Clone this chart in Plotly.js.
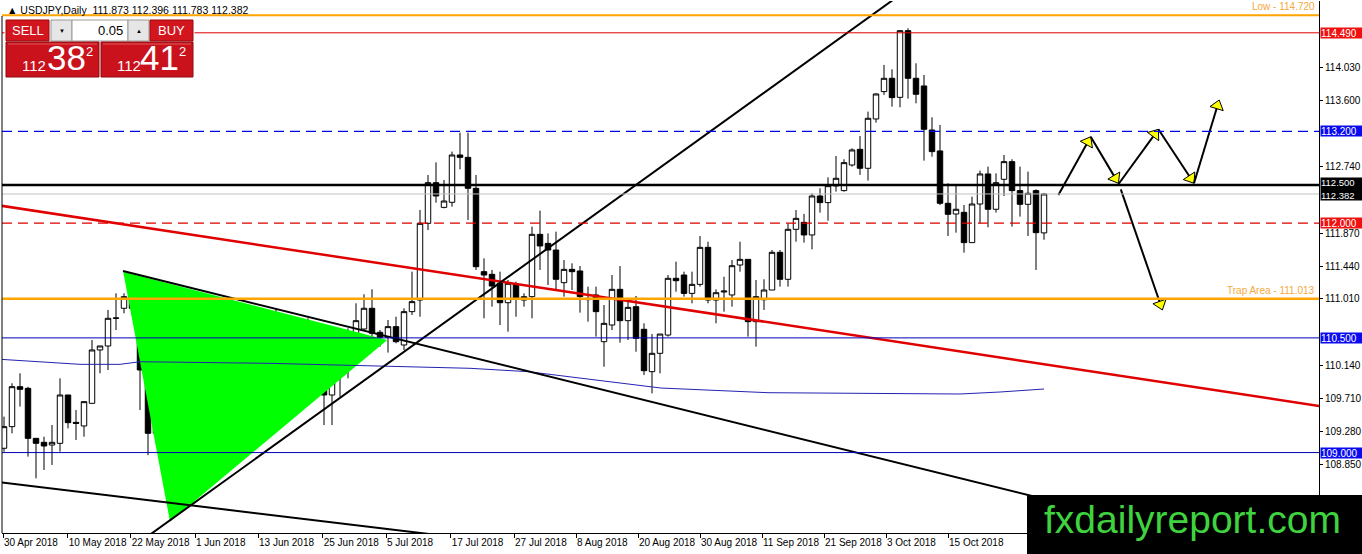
<!DOCTYPE html>
<html><head><meta charset="utf-8">
<script src="https://cdn.plot.ly/plotly-3.0.1.min.js"></script>
<style>html,body{margin:0;padding:0;background:#fff;}#chart{width:1362px;height:554px;}</style>
</head><body><div id="chart"></div>
<script>
// ---- OHLC data (bar index 0 = 30 Apr 2018) ----
const openP = [
109.056,109.339,109.862,109.840,109.186,109.134,109.099,109.121,109.753,109.395,
109.348,109.644,110.342,110.394,110.756,110.887,111.039,110.887,110.080,109.252,
109.762,109.405,108.763,108.903,108.816,109.448,109.797,109.775,110.189,109.697,
109.361,110.015,110.364,110.333,110.625,110.690,110.551,110.045,110.350,109.984,
109.818,109.753,110.049,110.241,110.481,110.616,110.887,110.573,110.507,110.647,
110.407,110.843,110.995,111.998,112.530,112.207,112.273,112.892,112.861,112.456,
111.366,111.331,111.214,110.960,111.205,110.995,111.039,111.854,111.736,111.649,
111.222,111.396,111.375,111.017,111.061,110.450,110.668,111.135,110.725,110.908,
110.612,110.058,110.298,110.537,111.279,111.322,111.082,111.200,111.684,110.995,
111.100,111.061,111.453,111.527,110.712,110.999,111.126,111.619,111.266,111.920,
112.011,111.846,112.356,112.269,112.487,112.426,112.761,112.966,112.718,113.363,
113.721,113.895,113.646,114.518,113.895,113.795,113.219,112.945,112.260,112.120,
112.142,111.746,112.251,112.644,112.182,112.574,112.805,112.426,112.247,112.426,
111.873];
const highP = [
109.470,109.906,110.037,109.860,109.186,109.208,109.361,109.971,109.753,109.557,
109.666,110.473,110.394,110.865,111.083,111.083,111.192,110.887,110.080,109.862,
109.862,109.470,109.056,108.990,109.732,109.862,110.015,110.276,110.211,109.840,
110.124,110.473,110.821,110.821,110.887,110.712,110.551,110.472,110.756,110.210,
110.058,110.167,110.342,110.625,110.952,111.070,111.135,110.603,110.734,110.777,
110.887,111.366,112.173,112.630,112.796,112.565,112.936,113.184,113.184,112.630,
111.540,111.388,111.366,111.257,111.235,111.083,111.955,112.164,111.867,111.889,
111.518,111.475,111.440,111.170,111.170,110.930,111.322,111.440,111.017,111.048,
110.690,110.550,110.550,111.322,111.497,111.366,111.366,111.832,111.758,111.135,
111.300,111.518,111.758,111.527,111.257,111.266,111.649,111.649,111.998,112.172,
112.121,112.391,112.456,112.600,112.879,112.836,112.979,113.141,113.459,113.699,
114.070,114.013,114.527,114.549,114.091,113.939,113.385,113.285,112.522,112.500,
112.238,112.347,112.688,112.740,112.652,112.892,112.836,112.740,112.674,112.443,
112.396];
const lowP = [
109.012,109.252,109.601,108.947,108.663,108.772,108.838,109.012,109.317,109.165,
109.208,109.644,110.037,110.080,110.603,110.821,110.800,109.557,108.966,109.121,
109.252,108.336,108.358,108.380,108.729,109.383,109.470,109.775,109.492,109.208,
109.317,109.993,110.211,110.080,110.385,110.298,109.557,109.862,109.840,109.796,
109.360,109.360,109.731,109.971,110.473,110.603,110.494,110.385,110.307,110.429,
110.341,110.799,110.777,111.910,112.268,112.194,112.216,112.705,112.042,111.388,
110.756,110.908,110.668,110.581,110.777,110.908,110.756,111.388,111.191,111.126,
111.039,111.126,110.830,110.712,110.516,110.123,110.603,110.437,110.472,110.319,
110.014,109.774,110.036,110.516,111.104,111.039,110.952,111.170,110.952,110.690,
110.843,110.908,111.366,110.516,110.385,110.865,111.126,111.170,111.170,111.758,
111.746,111.658,112.138,112.033,112.413,112.413,112.740,112.631,112.557,113.315,
113.677,113.524,113.516,113.629,113.568,112.818,112.870,112.238,111.833,111.876,
111.615,111.746,111.998,111.946,112.138,112.356,111.955,112.086,111.833,111.388,
111.783];
const closeP = [
109.339,109.862,109.827,109.186,109.121,109.086,109.134,109.753,109.391,109.382,
109.666,110.342,110.394,110.756,110.760,111.039,110.887,110.080,109.252,109.383,
109.426,108.750,108.903,108.807,109.527,109.819,109.800,110.167,109.697,109.535,
110.015,110.364,110.333,110.625,110.647,110.551,110.045,110.350,109.984,109.958,
109.753,110.049,110.241,110.481,110.725,110.887,110.560,110.507,110.647,110.450,
110.843,110.974,111.998,112.530,112.356,112.290,112.892,112.861,112.456,111.431,
111.322,111.178,110.960,111.214,111.017,111.039,111.854,111.702,111.649,111.266,
111.396,111.366,111.039,111.000,110.843,110.690,111.135,110.725,110.899,110.494,
110.071,110.298,110.550,111.279,111.248,111.082,111.200,111.684,110.995,111.091,
111.112,111.444,111.527,110.712,111.039,111.126,111.619,111.266,111.920,112.063,
111.846,112.356,112.269,112.491,112.587,112.792,112.958,112.718,113.372,113.690,
113.895,113.642,114.518,113.895,113.686,113.228,112.936,112.260,112.116,112.182,
111.746,112.251,112.644,112.182,112.530,112.805,112.426,112.247,112.391,111.876,
112.382];

// ---- axis labels ----
const dateLabels = ['30 Apr 2018','10 May 2018','22 May 2018','1 Jun 2018','13 Jun 2018','25 Jun 2018',
  '5 Jul 2018','17 Jul 2018','27 Jul 2018','8 Aug 2018','20 Aug 2018','30 Aug 2018','11 Sep 2018',
  '21 Sep 2018','3 Oct 2018','15 Oct 2018'];
const dateLabelBars = [-0.125,7.96,15.84,23.875,31.75,39.84,47.75,55.84,63.75,71.5,79.25,87,94.75,102.5,110.25,118];
const priceTicks = [114.03,113.60,112.74,111.87,111.44,111.01,110.14,109.71,109.28,108.85];
const priceTickText = ['114.030','113.600','112.740','111.870','111.440','111.010','110.140','109.710','109.280','108.850'];

// ---- moving average (read at sample bars) ----
const maBars = [-0.5,9.5,14.5,17,33.25,48.25,58.25,65.5,73.8,82.1,95.5,112,119.5,124.5,130];
const maVals = [110.220,110.154,110.154,110.188,110.167,110.132,110.102,110.058,109.949,109.844,109.783,109.766,109.766,109.792,109.831];

// ---- horizontal levels ----
const levelPrices = [114.720,114.490,113.200,112.500,112.382,112.000,111.013,110.500,109.000];
const tagPrices = [114.490,113.200,112.000,110.500,109.000];
const tagTexts = ['114.490','113.200','112.000','110.500','109.000'];
const pairTagPrices = [112.500,112.382];
const pairTagTexts = ['112.500','112.382'];
const levelNotes = ['Low - 114.720','Trap Area - 111.013'];
const notePrices = [114.720,111.013];

// ---- drawn objects (two anchor points each) ----
const redLineBars = [32.5,99.25],   redLinePrices = [111.706,110.645];
const riseLineBars = [33.25,66.25], riseLinePrices = [109.056,111.541];
const descLineBars = [14.875,66.25],descLinePrices = [111.375,110.044];
const lowLineBars = [-0.16,51.375], lowLinePrices = [108.606,107.957];
const triBars = [14.9,20.75,47.9],  triPrices = [111.366,108.095,110.472];
const arrowBars = [[131.8,135.84],[135.84,139.3],[139.3,144.3],[144.3,148.75],[148.75,151.9],[139.6,144.8]];
const arrowPrices = [[112.369,113.131],[113.131,112.522],[112.509,113.228],[113.228,112.522],[112.522,113.611],[112.443,110.865]];

// ---- header / panel text ----
const headerText = '\u25B2 USDJPY,Daily  111.873 112.396 111.783 112.382';
const sellBig = ['112','38','2'], buyBig = ['112','41','2'];
const lotText = '0.05';
const logoText = 'fxdailyreport.com';

// =========================================
const XR = [-0.25,164.375], YR = [107.948,114.906];
const bars = openP.map((_,i)=>i);
function ext(bx, py, x0, x1){
  const k = (py[1]-py[0])/(bx[1]-bx[0]);
  return [[x0,x1],[py[0]+k*(x0-bx[0]), py[0]+k*(x1-bx[0])]];
}
const FONT = 'Liberation Sans, Arial, sans-serif';
const traces = [];
traces.push({type:'scatter',mode:'lines',x:triBars.concat([triBars[0]]),y:triPrices.concat([triPrices[0]]),
  fill:'toself',fillcolor:'#00ff00',line:{width:0,color:'#00ff00'},hoverinfo:'skip'});
traces.push({type:'candlestick',x:bars,open:openP,high:highP,low:lowP,close:closeP,
  increasing:{line:{color:'#000',width:1},fillcolor:'#ffffff'},
  decreasing:{line:{color:'#000',width:1},fillcolor:'#000000'},
  whiskerwidth:0,hoverinfo:'skip'});
traces.push({type:'scatter',mode:'lines',x:maBars,y:maVals,line:{color:'#2323b0',width:1},hoverinfo:'skip'});
let e = ext(redLineBars,redLinePrices,-2,170);
traces.push({type:'scatter',mode:'lines',x:e[0],y:e[1],line:{color:'#e00000',width:2.5},hoverinfo:'skip'});
e = ext(riseLineBars,riseLinePrices,10,120);
traces.push({type:'scatter',mode:'lines',x:e[0],y:e[1],line:{color:'#000',width:2},hoverinfo:'skip'});
e = ext(descLineBars,descLinePrices,descLineBars[0],170);
traces.push({type:'scatter',mode:'lines',x:e[0],y:e[1],line:{color:'#000',width:2},hoverinfo:'skip'});
e = ext(lowLineBars,lowLinePrices,-2,60);
traces.push({type:'scatter',mode:'lines',x:e[0],y:e[1],line:{color:'#000',width:2},hoverinfo:'skip'});
arrowBars.forEach((bx,i)=>{
  traces.push({type:'scatter',mode:'lines+markers',x:bx,y:arrowPrices[i],
    line:{color:'#000',width:2},
    marker:{symbol:'triangle-up',size:[0,12],opacity:[0,1],color:'#ffff00',angleref:'previous',standoff:6,
      line:{color:'#000',width:1}},hoverinfo:'skip'});
});

// pixel -> paper
const PL=2, PT=1, PW=1317, PH=532;
const px = v => (v-PL)/PW, py = v => (PT+PH-v)/PH;

const levelStyle = [
  {color:'#ffa500',width:2,dash:'solid'},
  {color:'#e00000',width:1,dash:'solid'},
  {color:'#0000ff',width:1.3,dash:'10px,6px'},
  {color:'#000000',width:2.5,dash:'solid'},
  {color:'#c0c0c0',width:1,dash:'solid'},
  {color:'#e00000',width:1.3,dash:'10px,6px'},
  {color:'#ffa500',width:2.5,dash:'solid'},
  {color:'#0000b8',width:1,dash:'solid'},
  {color:'#0000b8',width:1,dash:'solid'}
];
const shapes = [];
levelPrices.forEach((p,i)=>{
  shapes.push({type:'line',xref:'paper',yref:'y',x0:0,x1:1,y0:p,y1:p,layer:'above',line:levelStyle[i]});
});
// left frame line
shapes.push({type:'line',xref:'paper',yref:'paper',x0:0,x1:0,y0:0,y1:py(16),line:{color:'#000',width:1}});

function rect(x0,y0,x1,y1,fill,line){
  shapes.push({type:'rect',xref:'paper',yref:'paper',x0:px(x0),x1:px(x1),y0:py(y1),y1:py(y0),
    fillcolor:fill,line:{color:line,width:1},layer:'above'});
}
// trade panel
rect(5,19,194,77,'#ffffff','#ffffff');
rect(6,20,49,41,'#d3151e','#9a0b10');
rect(51,20,72,41,'#e6e6e6','#9a9a9a');
rect(72,20,128,41,'#ffffff','#9a9a9a');
rect(128,20,149,41,'#e6e6e6','#9a9a9a');
rect(150,20,193,41,'#d3151e','#9a0b10');
rect(6,42,99,77,'#c9121c','#8e0a0e');
rect(101,42,193,77,'#c9121c','#8e0a0e');
shapes.push({type:'line',xref:'paper',yref:'paper',x0:px(8),x1:px(97),y0:py(44),y1:py(44),line:{color:'#e25a5a',width:1},layer:'above'});
shapes.push({type:'line',xref:'paper',yref:'paper',x0:px(103),x1:px(191),y0:py(44),y1:py(44),line:{color:'#e25a5a',width:1},layer:'above'});
// logo box
shapes.push({type:'rect',xref:'paper',yref:'paper',x0:px(1027),x1:px(1362),y0:py(554),y1:py(495),
  fillcolor:'#000',line:{width:0},layer:'above'});

const ann = [];
function txt(t,x,y,size,color,xa,extra){
  ann.push(Object.assign({text:t,xref:'paper',yref:'paper',x:px(x),y:py(y),xanchor:xa||'left',yanchor:'middle',
    showarrow:false,font:{family:FONT,size:size,color:color}},extra||{}));
}
txt(headerText,5,10,10.5,'#000');
txt('SELL',27.5,31,13,'#fff','center');
txt('\u25BC',61.5,31,6,'#000','center');
txt(lotText,125,31,13,'#000','right');
txt('\u25B2',138.5,31,6,'#000','center');
txt('BUY',171.5,31,13,'#fff','center');
txt(sellBig[0],20,66,15,'#fff');
txt(sellBig[1],45,58,35,'#fff');
txt(sellBig[2],84,51,13,'#fff');
txt(buyBig[0],115,66,15,'#fff');
txt(buyBig[1],138,58,35,'#fff');
txt(buyBig[2],177,51,13,'#fff');
txt(logoText,1192,519,39,'#3fd43f','center');

const tagColor = ['#f01010','#0a0af0','#f01010','#0a0af0','#0a0af0'];
tagPrices.forEach((p,i)=>{
  ann.push({text:tagTexts[i],xref:'paper',yref:'y',x:1,y:p,xanchor:'left',yanchor:'middle',xshift:1,
    showarrow:false,bgcolor:tagColor[i],width:41,height:10,borderpad:0,align:'left',
    font:{family:FONT,size:10,color:'#fff'}});
});
// combined black tag for the 112.500 level and the bid price
ann.push({text:pairTagTexts.join('<br>'),xref:'paper',yref:'y',x:1,y:(pairTagPrices[0]+pairTagPrices[1])/2,
  xanchor:'left',yanchor:'middle',xshift:1,showarrow:false,bgcolor:'#000',width:41,height:22,borderpad:0,
  align:'left',font:{family:FONT,size:9.5,color:'#fff'}});
const noteColor = '#f5a83a';
notePrices.forEach((p,i)=>{
  ann.push({text:levelNotes[i],xref:'paper',yref:'y',x:px(1317),y:p,xanchor:'right',yanchor:'bottom',yshift:1,
    showarrow:false,font:{family:FONT,size:10,color:noteColor}});
});

const layout = {
  width:1362,height:554,margin:{l:PL,r:1362-PL-PW,t:PT,b:554-PT-PH,pad:0},
  paper_bgcolor:'#fff',plot_bgcolor:'#fff',showlegend:false,hovermode:false,boxgap:0.15,boxgroupgap:0.2,
  xaxis:{range:XR,showgrid:false,zeroline:false,showline:true,linecolor:'#000',linewidth:1,
    ticks:'outside',ticklen:4,tickcolor:'#000',tickvals:dateLabelBars,ticktext:dateLabels,
    tickangle:0,automargin:false,ticklabelposition:'outside right',
    tickfont:{family:FONT,size:10,color:'#000'},
    rangeslider:{visible:false},fixedrange:true},
  yaxis:{range:YR,side:'right',showgrid:false,zeroline:false,showline:true,linecolor:'#000',linewidth:1,
    ticks:'outside',ticklen:3,tickcolor:'#000',tickvals:priceTicks,ticktext:priceTickText,automargin:false,
    tickfont:{family:FONT,size:10,color:'#000'},fixedrange:true},
  shapes:shapes,annotations:ann
};
Plotly.newPlot('chart',traces,layout,{staticPlot:true,displayModeBar:false});
</script></body></html>
